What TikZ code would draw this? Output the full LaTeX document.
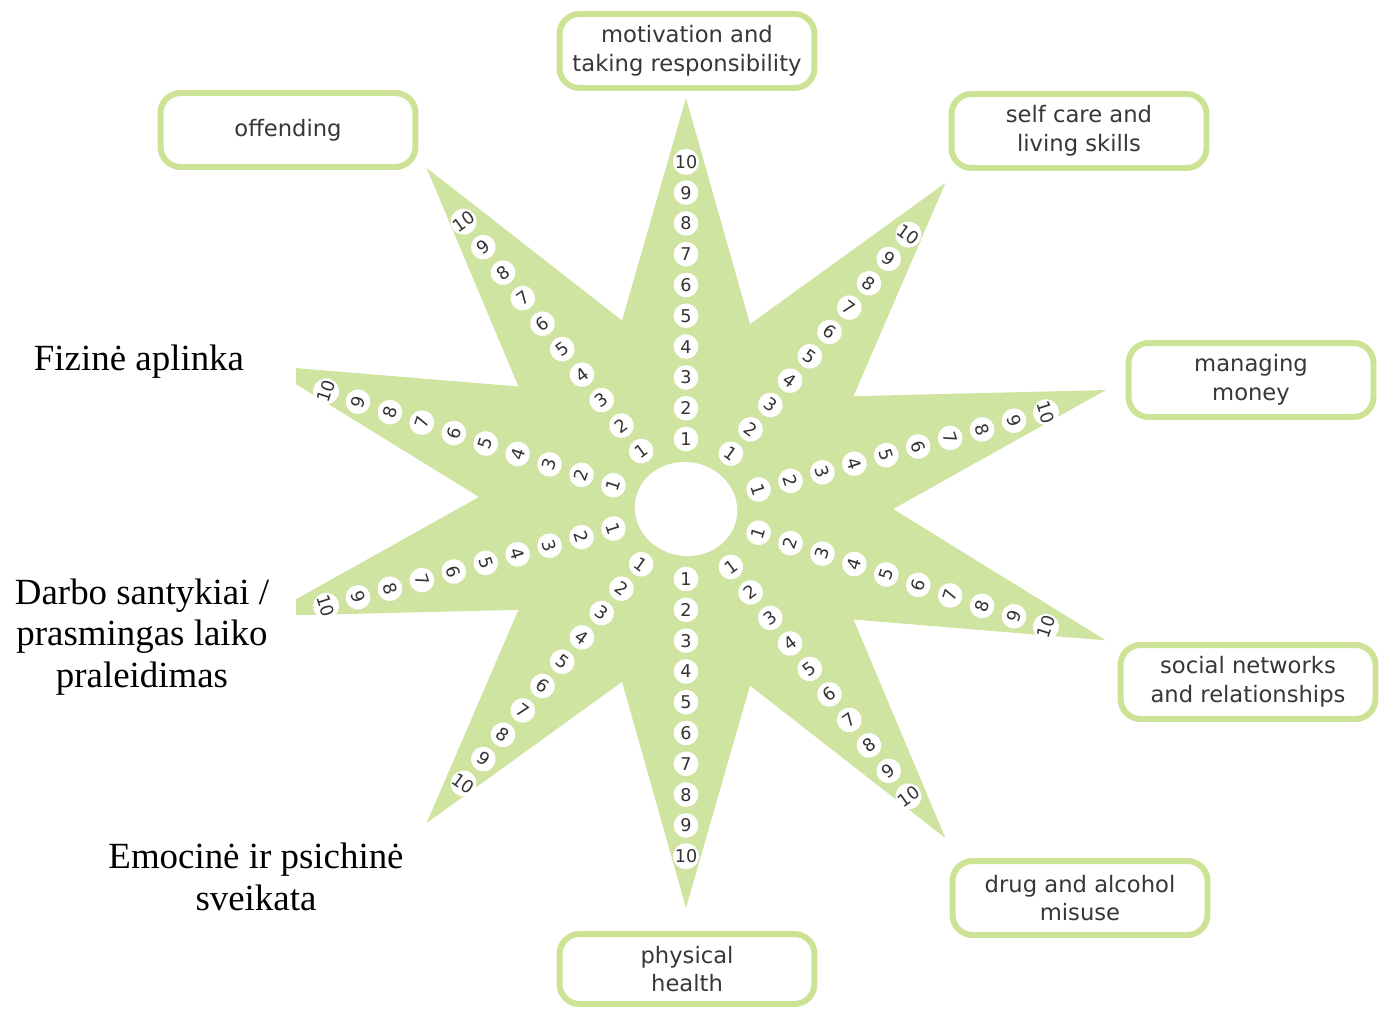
\documentclass[tikz,border=0pt]{standalone}
\usepackage{fontspec}
\setmainfont{Liberation Serif}
\newfontfamily\starfont{DejaVu Sans}
\begin{document}
\begin{tikzpicture}[x=0.02cm, y=-0.02cm]

\def\outerrad{405}
\def\innerrad{190}
\def\firstdot{70}
\def\dotstep{30.8}
\definecolor{stargreen}{RGB}{208,228,162}
\definecolor{boxgreen}{RGB}{204,227,150}
\definecolor{labelgray}{RGB}{55,55,55}
\tikzset{goal box/.style={
    rectangle,
    rounded corners=0.4cm,
    draw=boxgreen,
    line width=3.4pt,
    fill=white,
    align=center,
    text=labelgray,
    font=\starfont\fontsize{12.9}{16.4}\selectfont,
    minimum width=5.1cm,
    minimum height=1.48cm
}};
\tikzset{score dot/.style={
    circle,
    fill=white,
    inner sep=0pt,
    minimum size=14pt,
    text=black!80,
    font=\starfont\fontsize{10}{10}\selectfont
}};
\tikzset{lt label/.style={
    align=center,
    font=\fontsize{21}{23.8}\selectfont
}};

\useasboundingbox (0,0) rectangle (1379,1008);

% the star with its scales
\begin{scope}
\clip (296,0) rectangle (1379,1008);
\begin{scope}[shift={(686,509)}, x=0.0218cm, y=0.02cm, yslant=-0.029]
    \fill[stargreen, shift={(0,6)}] (90:\outerrad)
        \foreach \k in {0,...,9} {
            -- ({72-36*\k}:\innerrad) -- ({54-36*\k}:\outerrad)
        } -- cycle;
    \fill[white] (0,0) circle [radius=47];
    \foreach \a [count=\i] in {90,54,18,-18,-54,-90,-126,-162,162,126} {
        \pgfmathsetmacro{\rot}{ifthenelse(\a>0,\a-90,\a+90)}
        \foreach \n in {1,...,10} {
            \node[score dot, rotate=\rot] (s\i-\n)
                at ({\a}:{\firstdot+\dotstep*(\n-1)}) {\n};
        }
    }
\end{scope}
\end{scope}

\node[goal box] (motivation) at (687,51) {motivation and\\taking responsibility};
\node[goal box] (offending) at (288,130) {offending};
\node[goal box] (selfcare) at (1079,131) {self care and\\living skills};
\node[goal box, minimum width=4.9cm] (money) at (1251,380) {managing\\money};
\node[goal box] (social) at (1248,682) {social networks\\and relationships};
\node[goal box] (drugs) at (1080,898) {drug and alcohol\\misuse};
\node[goal box, minimum height=1.4cm] (health) at (687,969) {physical\\health};

\node[lt label] (fizine) at (139,362) {Fizinė aplinka};
\node[lt label] (darbo) at (142,637) {Darbo santykiai /\\prasmingas laiko\\praleidimas};
\node[lt label] (emocine) at (256,877) {Emocinė ir psichinė\\sveikata};
\end{tikzpicture}
\end{document}
